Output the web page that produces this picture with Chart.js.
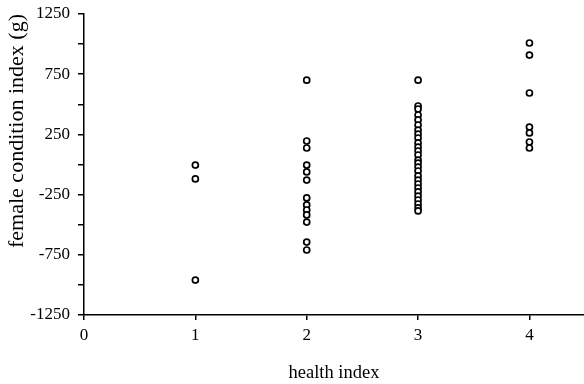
<!DOCTYPE html>
<html>
<head>
<meta charset="utf-8">
<script src="https://cdn.jsdelivr.net/npm/chart.js@4.4.0/dist/chart.umd.min.js"></script>
<style>
  html, body { margin: 0; padding: 0; background: #fff; }
  #wrap { width: 584px; height: 384px; }
</style>
</head>
<body>
<div id="wrap"><canvas id="myChart" width="584" height="384"></canvas></div>
<script>
  // health index categories and female condition index (g)
  var healthLevels = [1, 2, 3, 4];
  var condition1 = [-5, -120, -960];
  var condition2 = [700, 195, 137, -5, -62, -129, -278, -336, -378, -419, -478, -644, -710];
  var condition3 = [700, 486, 461, 411, 370, 328, 286, 253, 220, 179, 145, 112, 79, 37, 12,
    -21, -54, -95, -129, -162, -195, -228, -262, -295, -328, -361, -386];
  var condition4 = [1009, 909, 594, 311, 262, 187, 137];
  var yTickLabels = [1250, 750, 250, -250, -750, -1250];
  var xTickLabels = [0, 1, 2, 3, 4];

  var groups = [condition1, condition2, condition3, condition4];
  var points = [];
  groups.forEach(function (vals, i) {
    vals.forEach(function (v) {
      points.push({ x: healthLevels[i], y: v });
    });
  });

  var serif = "'Liberation Serif', 'Times New Roman', serif";
  var ctx = document.getElementById("myChart").getContext("2d");
  var myChart = new Chart(ctx, {
    type: "scatter",
    data: {
      datasets: [
        {
          data: points,
          pointStyle: "circle",
          pointRadius: 3,
          pointBorderWidth: 1.7,
          pointBorderColor: "#000",
          pointBackgroundColor: "#fff",
        },
      ],
    },
    options: {
      responsive: false,
      animation: false,
      layout: { autoPadding: false, padding: { top: 14, right: 0, left: 0, bottom: 0 } },
      plugins: {
        legend: { display: false },
        tooltip: { enabled: false },
      },
      scales: {
        x: {
          type: "linear",
          min: 0,
          max: 4.49,
          afterBuildTicks: function (scale) {
            scale.ticks = xTickLabels.map(function (v) { return { value: v }; });
          },
          afterFit: function (scale) {
            scale.height = 69;
            scale.paddingLeft = 0;
            scale.paddingRight = 0;
          },
          border: { color: "#000", width: 1.5 },
          grid: { drawOnChartArea: false, drawTicks: true, tickLength: 5, color: "#000", lineWidth: 1.5 },
          ticks: { color: "#000", font: { family: serif, size: 17 }, padding: 5, maxRotation: 0 },
          title: {
            display: true,
            text: "health index",
            color: "#000",
            font: { family: serif, size: 18.5 },
            padding: { top: 0, bottom: 0 },
          },
        },
        y: {
          min: -1250,
          max: 1250,
          afterBuildTicks: function (scale) {
            var t = [];
            for (var v = -1250; v <= 1250; v += 250) t.push({ value: v });
            scale.ticks = t;
          },
          afterFit: function (scale) {
            scale.width = 84;
            scale.paddingTop = 0;
            scale.paddingBottom = 0;
          },
          border: { color: "#000", width: 1.5 },
          grid: { drawOnChartArea: false, drawTicks: true, tickLength: 6, color: "#000", lineWidth: 1.5 },
          ticks: {
            color: "#000",
            font: { family: serif, size: 17 },
            padding: 8,
            callback: function (v) {
              return yTickLabels.indexOf(v) >= 0 ? String(v) : "";
            },
          },
          title: {
            display: true,
            text: "female condition index (g)",
            color: "#000",
            align: "end",
            font: { family: serif, size: 22 },
            padding: { top: 4, bottom: 0 },
          },
        },
      },
    },
  });
</script>
</body>
</html>
